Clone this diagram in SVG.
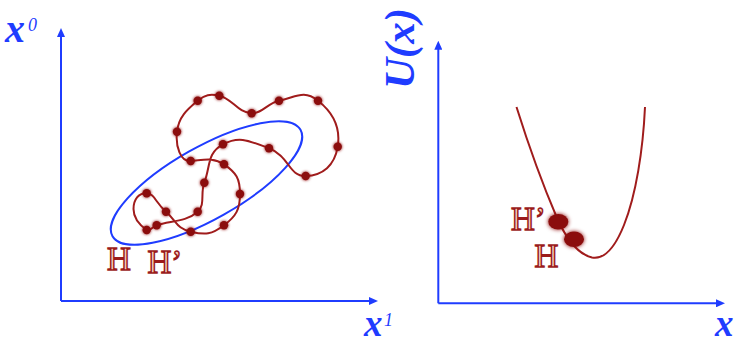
<svg xmlns="http://www.w3.org/2000/svg" width="740" height="344" viewBox="0 0 740 344">
<style>
.axis{stroke:#1f3cff;stroke-width:2;fill:none}
.lbl{font-family:"Liberation Serif",serif;font-style:italic;font-weight:bold;fill:#1f3cff}
.sup{font-family:"Liberation Serif",serif;font-style:italic;fill:#1f3cff}
.curve{stroke:#a01c1c;stroke-width:2;fill:none}
.dot{fill:#8b1010}
.H{font-family:"Liberation Serif",serif;font-size:33px;fill:#f7d4c0;stroke:#9b1b1b;stroke-width:1.5}
</style>
<defs>
<marker id="arr" markerUnits="userSpaceOnUse" markerWidth="9" markerHeight="8" refX="1" refY="4" orient="auto">
<path d="M0,0 L9,4 L0,8 z" fill="#1f3cff"/>
</marker>
<filter id="glow" x="-100%" y="-100%" width="300%" height="300%">
<feGaussianBlur in="SourceGraphic" stdDeviation="1.4" result="b"/>
<feMerge><feMergeNode in="b"/><feMergeNode in="SourceGraphic"/></feMerge>
</filter>
<filter id="glow2" x="-100%" y="-100%" width="300%" height="300%">
<feGaussianBlur in="SourceGraphic" stdDeviation="2" result="b"/>
<feMerge><feMergeNode in="b"/><feMergeNode in="SourceGraphic"/></feMerge>
</filter>
</defs>

<g id="connectors">
<path class="axis" d="M61,301 V36" marker-end="url(#arr)"/>
<path class="axis" d="M61,301 H370" marker-end="url(#arr)"/>
<path class="axis" d="M438.3,303.3 V48.7" marker-end="url(#arr)"/>
<path class="axis" d="M438.3,303.3 H717" marker-end="url(#arr)"/>
</g>

<g id="left-labels">
<text class="lbl" x="5" y="41.5" font-size="40">x</text>
<text class="sup" x="28" y="31" font-size="18">0</text>
<text class="lbl" x="364" y="335.5" font-size="37">x</text>
<text class="sup" x="384" y="326" font-size="18">1</text>
</g>

<g id="ellipse">
<ellipse cx="206.5" cy="183" rx="108" ry="36" transform="rotate(-29.5 206.5 183)" fill="none" stroke="#1f3cff" stroke-width="2"/>
</g>

<g id="trajectory">
<path class="curve" d="M146.7,230 C140.9,225.92 133.5,218.17 133.5,209 C133.5,199.83 138.57,192.62 146.7,193.3 C154.83,193.98 155,202.1 166,211.7 C177,221.3 176.2,228.3 190.7,231.7 C205.2,235.1 211.67,234.72 224,225.3 C236.33,215.88 240,209.25 240,194 C240,178.75 236.33,172.55 224,164.3 C213,157 204,160 190.7,161 C180.7,161.8 175.25,146.78 177,131.7 C178.75,116.62 187.12,109.7 197.7,100.7 C204.75,94.7 210.3,93.6 219.3,95.7 C232.8,98.85 236.77,112.05 251.7,113.3 C261.65,114.1 267.95,102.8 279,100.7 C295.58,97.55 303.33,89.2 318,100.7 C332.67,112.2 340.78,127.87 337.7,146.7 C334.62,165.53 322.88,175.6 305.7,176 C288.52,176.4 289.67,156.22 269,148.3 C248.33,140.38 239.17,135.7 223,144.3 C206.83,152.9 210.63,165.85 204.3,182.7 C200.1,193.9 205.6,204.6 197.7,211.7 C185.8,222.35 169.45,220.72 156.7,225.3 C152,227 149.7,232 146.7,230 Z"/>
</g>

<g id="samples" filter="url(#glow)">
<circle class="dot" cx="146.7" cy="230" r="4.2"/>
<circle class="dot" cx="146.7" cy="193.3" r="4.2"/>
<circle class="dot" cx="166" cy="211.7" r="4.2"/>
<circle class="dot" cx="190.7" cy="231.7" r="4.2"/>
<circle class="dot" cx="224" cy="225.3" r="4.2"/>
<circle class="dot" cx="240" cy="194" r="4.2"/>
<circle class="dot" cx="224" cy="164.3" r="4.2"/>
<circle class="dot" cx="190.7" cy="161" r="4.2"/>
<circle class="dot" cx="177" cy="131.7" r="4.2"/>
<circle class="dot" cx="197.7" cy="100.7" r="4.2"/>
<circle class="dot" cx="219.3" cy="95.7" r="4.2"/>
<circle class="dot" cx="251.7" cy="113.3" r="4.2"/>
<circle class="dot" cx="279" cy="100.7" r="4.2"/>
<circle class="dot" cx="318" cy="100.7" r="4.2"/>
<circle class="dot" cx="337.7" cy="146.7" r="4.2"/>
<circle class="dot" cx="305.7" cy="176" r="4.2"/>
<circle class="dot" cx="269" cy="148.3" r="4.2"/>
<circle class="dot" cx="223" cy="144.3" r="4.2"/>
<circle class="dot" cx="204.3" cy="182.7" r="4.2"/>
<circle class="dot" cx="197.7" cy="211.7" r="4.2"/>
<circle class="dot" cx="156.7" cy="225.3" r="4.2"/>
</g>

<g id="left-H">
<text class="H" x="107" y="270">H</text>
<text class="H" x="147.5" y="273">H’</text>
</g>

<g id="right-labels">
<text class="lbl" font-size="43" transform="translate(414,89) rotate(-90)">U(x)</text>
<text class="lbl" x="715" y="335.5" font-size="37">x</text>
</g>

<g id="potential">
<path class="curve" stroke-width="1.8" d="M516.5,107 C530,150 545,190 557,218 C566,238 577,254 592,257.5 C606,260 616,245 624,225 C636,195 643,150 645,107"/>
</g>

<g id="right-H">
<g filter="url(#glow2)">
<ellipse class="dot" cx="558.3" cy="221.7" rx="10" ry="7.8"/>
<ellipse class="dot" cx="574" cy="239.3" rx="10" ry="7.8"/>
</g>
<text class="H" x="511" y="230">H’</text>
<text class="H" x="534.5" y="267">H</text>
</g>
</svg>
